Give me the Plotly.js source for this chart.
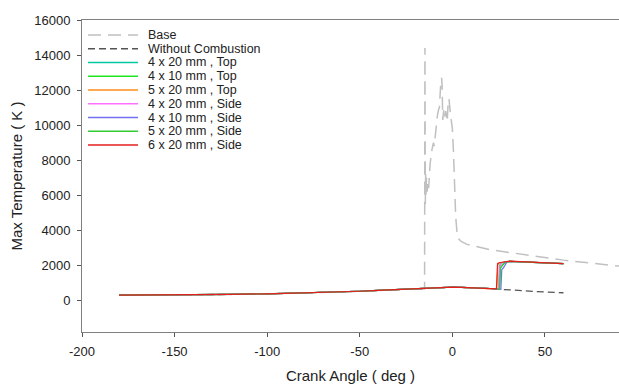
<!DOCTYPE html>
<html>
<head>
<meta charset="utf-8">
<script src="https://cdn.plot.ly/plotly-3.0.1.min.js"></script>
<style>html,body{margin:0;padding:0;background:#fff;}#chart{width:619px;height:384px;}</style>
</head>
<body>
<div id="chart"></div>
<script>
// ---- data ----
const baseAngle = [-180,-150,-120,-100,-80,-60,-40,-30,-20,-15,-14.8,-14.6,-14.4,-14.2,-14.0,-13.6,-13.2,-12.8,-12.0,-11.0,-10.2,-9.8,-9.0,-8.0,-7.4,-7.0,-6.2,-5.8,-5.5,-5.2,-4.6,-4.2,-3.6,-2.8,-2.2,-1.8,-1.2,-0.5,0,0.6,1.2,1.8,2.5,3.5,5,8,20,40,60,90];
const baseTemp  = [300,310,340,380,425,485,570,620,675,650,14400,5500,7200,6000,7000,6200,6800,6400,7800,8600,9000,8800,9800,10600,10900,11000,12500,12700,12200,10300,10900,10500,10800,10200,11400,11500,10800,10300,9800,8500,6500,4800,3900,3500,3350,3200,2900,2600,2300,1960];

const compAngle = [-180,-160,-140,-120,-100,-80,-60,-50,-40,-30,-20,-15,-10,-5,0,5,10,15,20];
const compTemp  = [300,305,320,345,380,425,485,525,570,620,675,705,730,748,755,750,735,712,682];

const noCombAngle = [25,30,40,50,60];
const noCombTemp  = [640,600,530,480,440];

const seriesNames = ["4 x 20 mm , Top","4 x 10 mm , Top","5 x 20 mm , Top","4 x 20 mm , Side","4 x 10 mm , Side","5 x 20 mm , Side","6 x 20 mm , Side"];
const seriesColors = ["#00c8a0","#1ee61e","#ff8c1a","#ff70ff","#7070f0","#33cc33","#e51e1e"];

const top4x20Angle  = [25.0,25.5,26.5,31,40,50,60];
const top4x20Temp   = [645,2000,2150,2230,2190,2140,2100];
const top4x10Angle  = [25.5,26.0,28.0,31,40,50,60];
const top4x10Temp   = [640,1900,2120,2230,2190,2140,2100];
const top5x20Angle  = [24.0,24.6,25.5,31,40,50,60];
const top5x20Temp   = [650,2050,2150,2230,2190,2140,2100];
const side4x20Angle = [25.0,25.6,27.0,31,40,50,60];
const side4x20Temp  = [645,1950,2150,2230,2190,2140,2100];
const side4x10Angle = [26.2,26.7,27.5,29.5,31,40,50,60];
const side4x10Temp  = [635,1760,1850,2200,2230,2190,2140,2100];
const side5x20Angle = [25.5,26.0,28.5,31,40,50,60];
const side5x20Temp  = [640,1850,2200,2230,2190,2140,2100];
const side6x20Angle = [23.8,24.4,25.2,31,40,50,60];
const side6x20Temp  = [655,2100,2150,2240,2190,2140,2100];

const caseAngles = [top4x20Angle,top4x10Angle,top5x20Angle,side4x20Angle,side4x10Angle,side5x20Angle,side6x20Angle];
const caseTemps  = [top4x20Temp,top4x10Temp,top5x20Temp,side4x20Temp,side4x10Temp,side5x20Temp,side6x20Temp];

const xTickVals = [-200,-150,-100,-50,0,50];
const xTickText = ['-200','-150','-100','-50','0','50'];
const yTickVals = [0,2000,4000,6000,8000,10000,12000,14000,16000];
const yTickText = ['0','2000','4000','6000','8000','10000','12000','14000','16000'];

// ---- traces ----
const traces = [];
traces.push({x: baseAngle, y: baseTemp, mode: 'lines', name: 'Base',
  line: {color: '#c0c0c0', width: 1.5, dash: '13px,7px'}});
traces.push({x: compAngle.concat(noCombAngle), y: compTemp.concat(noCombTemp), mode: 'lines', name: 'Without Combustion',
  line: {color: '#555555', width: 1.3, dash: '7px,4px'}});
for (let i = 0; i < caseAngles.length; i++) {
  traces.push({x: compAngle.concat(caseAngles[i]), y: compTemp.concat(caseTemps[i]), mode: 'lines',
    name: seriesNames[i], line: {color: seriesColors[i], width: 1.2}});
}

// ---- custom compact legend (matches reference spacing) ----
const plotL = 82, plotR = 619, plotT = 20, plotB = 332;
const px2x = p => (p - plotL) / (plotR - plotL);
const py2y = p => (plotB - p) / (plotB - plotT);
const legendLabels = ['Base','Without Combustion'].concat(seriesNames);
const legendColors = ['#c0c0c0','#555555'].concat(seriesColors);
const legendDash = ['13px,7px','7px,4px','solid','solid','solid','solid','solid','solid','solid'];
const shapes = [], annotations = [];
legendLabels.forEach((lab, i) => {
  const yp = 35 + i * 13.75;
  shapes.push({type: 'line', xref: 'paper', yref: 'paper', x0: px2x(88), x1: px2x(138), y0: py2y(yp), y1: py2y(yp),
    line: {color: legendColors[i], width: 1.3, dash: legendDash[i]}});
  annotations.push({xref: 'paper', yref: 'paper', x: px2x(146), y: py2y(yp), xanchor: 'left', yanchor: 'middle',
    text: lab, showarrow: false, font: {family: 'Liberation Sans, Arial, sans-serif', size: 12.5, color: '#222'}});
});

const layout = {
  width: 619, height: 384,
  margin: {l: plotL, r: 619 - plotR, t: plotT, b: 384 - plotB},
  paper_bgcolor: '#fff', plot_bgcolor: '#fff',
  showlegend: false,
  font: {family: 'Liberation Sans, Arial, sans-serif', size: 13, color: '#222'},
  xaxis: {range: [-200, 90], tickmode: 'array', tickvals: xTickVals, ticktext: xTickText, showgrid: false, zeroline: false,
    showline: true, linecolor: '#808080', linewidth: 1, mirror: true,
    ticks: 'outside', ticklen: 4, tickcolor: '#555', ticklabelstandoff: 3,
    title: {text: 'Crank Angle ( deg )', font: {size: 15, color: '#222'}, standoff: 13}},
  yaxis: {range: [-1800, 16000], tickmode: 'array', tickvals: yTickVals, ticktext: yTickText, showgrid: false, zeroline: false,
    showline: true, linecolor: '#808080', linewidth: 1,
    ticks: 'outside', ticklen: 4, tickcolor: '#555', ticklabelstandoff: 4,
    title: {text: 'Max Temperature ( K )', font: {size: 15, color: '#222'}, standoff: 7}},
  shapes: shapes,
  annotations: annotations
};

Plotly.newPlot('chart', traces, layout, {displayModeBar: false, staticPlot: true});
</script>
</body>
</html>
